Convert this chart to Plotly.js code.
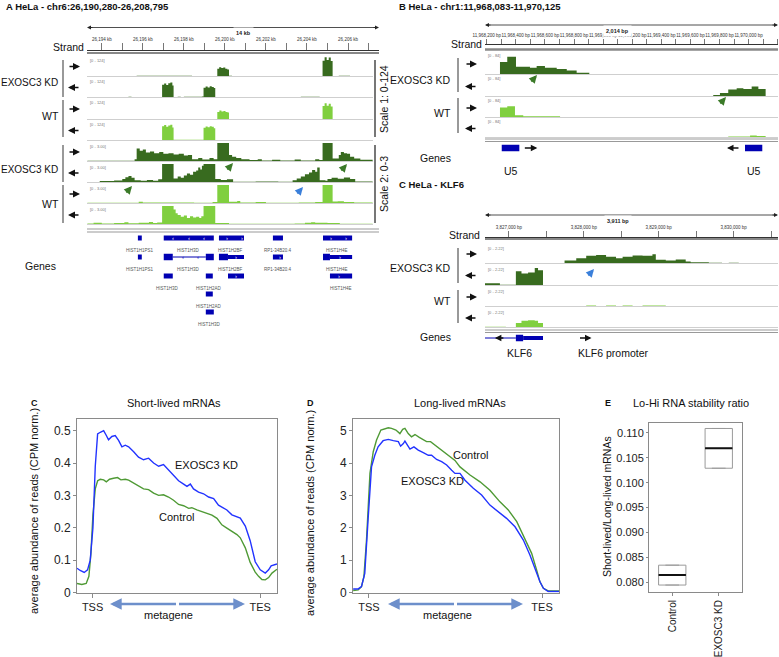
<!DOCTYPE html>
<html><head><meta charset="utf-8">
<script src="https://cdn.plot.ly/plotly-3.0.1.min.js"></script>
<style>html,body{margin:0;padding:0;background:#fff}#chart{width:779px;height:657px}</style>
</head><body><div id="chart"></div>
<script>
// ================= DATA =================
// Panel A (chr6, kb) – coverage steps: start positions and values (last = end, 0)
const aKdPlusX = [26193.30, 26195.60, 26195.70, 26195.85, 26196.00, 26196.15, 26196.35, 26196.55, 26196.80, 26197.00, 26197.25, 26197.50, 26197.75, 26198.00, 26198.20, 26198.40, 26198.70, 26198.90, 26199.25, 26199.45, 26199.63, 26199.72, 26199.82, 26199.92, 26200.02, 26200.12, 26200.20, 26200.35, 26200.55, 26200.80, 26201.20, 26201.60, 26201.80, 26202.30, 26202.70, 26203.40, 26203.70, 26204.40, 26204.60, 26204.76, 26204.86, 26204.96, 26205.06, 26205.16, 26205.25, 26205.55, 26205.65, 26205.80, 26205.95, 26206.10, 26206.30, 26206.60, 26207.20];
const aKdPlusY = [0.05, 0.3, 2.1, 1.7, 1.9, 1.4, 1.6, 1.3, 1.5, 1.2, 1.3, 1.1, 1.2, 0.9, 1.0, 0.3, 0.5, 0.25, 0.5, 0.3, 48, 57, 52, 55, 47, 42, 1.0, 0.7, 0.5, 0.3, 0.15, 0.3, 0.1, 0.2, 0.1, 0.25, 0.1, 0.3, 0.15, 100, 122, 105, 120, 98, 0.4, 1.0, 1.5, 1.3, 1.2, 0.7, 0.4, 0.2, 0];
const aKdMinusX = [26193.90, 26194.60, 26195.00, 26195.15, 26195.30, 26195.45, 26195.60, 26195.90, 26196.20, 26196.50, 26196.75, 26196.94, 26197.04, 26197.14, 26197.24, 26197.34, 26197.44, 26197.50, 26197.70, 26197.85, 26198.00, 26198.15, 26198.30, 26198.45, 26198.60, 26198.70, 26198.80, 26198.88, 26198.96, 26199.06, 26199.16, 26199.26, 26199.36, 26199.46, 26199.53, 26199.80, 26200.10, 26200.40, 26201.50, 26202.60, 26203.30, 26203.50, 26203.70, 26203.90, 26204.10, 26204.25, 26204.40, 26204.50, 26204.62, 26204.90, 26205.00, 26205.20, 26205.50, 26205.80, 26206.10, 26206.35, 26207.20];
const aKdMinusY = [0.15, 0.25, 0.5, 0.8, 1.0, 0.7, 0.3, 0.2, 0.35, 0.2, 0.45, 80, 88, 78, 90, 95, 75, 0.6, 0.9, 0.7, 1.1, 1.4, 1.2, 1.7, 1.9, 2.4, 2.1, 2.7, 60, 68, 62, 70, 66, 58, 0.5, 0.35, 0.45, 0.05, 0.1, 0.05, 0.3, 0.6, 0.9, 1.3, 1.6, 2.0, 1.7, 2.4, 0.3, 0.2, 0.5, 0.7, 0.55, 0.75, 0.5, 0.1, 0];
const aWtPlusX = [26193.30, 26195.80, 26196.00, 26197.00, 26198.50, 26199.40, 26199.63, 26199.73, 26199.83, 26199.93, 26200.03, 26200.13, 26200.20, 26200.60, 26200.75, 26201.50, 26202.00, 26203.60, 26204.40, 26204.76, 26204.86, 26204.96, 26205.06, 26205.16, 26205.25, 26205.50, 26205.80, 26206.30, 26207.20];
const aWtPlusY = [0.05, 0.2, 0.08, 0.1, 0.05, 0.15, 44, 52, 46, 50, 43, 40, 0.2, 0.35, 0.1, 0.15, 0.05, 0.1, 0.15, 80, 97, 82, 95, 78, 0.25, 0.3, 0.15, 0.1, 0];
const aWtMinusX = [26193.30, 26193.60, 26194.00, 26194.60, 26195.10, 26195.30, 26195.80, 26196.30, 26196.50, 26196.70, 26196.94, 26197.04, 26197.14, 26197.24, 26197.34, 26197.44, 26197.50, 26197.60, 26197.70, 26197.85, 26198.00, 26198.15, 26198.30, 26198.45, 26198.60, 26198.75, 26198.85, 26198.96, 26199.06, 26199.16, 26199.26, 26199.36, 26199.46, 26199.53, 26200.20, 26203.40, 26203.90, 26204.20, 26204.40, 26205.00, 26205.60, 26207.20];
const aWtMinusY = [0.1, 0.2, 0.08, 0.15, 0.3, 0.12, 0.2, 0.35, 0.15, 0.25, 90, 98, 86, 95, 100, 82, 2.4, 1.8, 1.5, 1.2, 1.4, 1.0, 1.3, 1.1, 1.2, 1.0, 1.3, 80, 88, 84, 90, 86, 76, 0.15, 0.05, 0.1, 0.2, 0.3, 0.2, 0.15, 0.05, 0];
const aScaleMax = [124, 3];
const aScaleText = ['[0 - 124]', '[0 - 3.00]'];
// Panel A genes (kb)
const aGeneStart = [26195.76, 26197.02, 26199.71, 26202.34, 26204.78, 26195.76, 26197.02, 26197.46, 26199.07, 26199.71, 26200.15, 26202.34, 26204.78, 26205.12, 26197.02, 26199.07, 26200.15, 26205.12, 26199.07, 26199.07];
const aGeneEnd   = [26195.95, 26199.46, 26200.93, 26202.83, 26206.20, 26195.95, 26197.46, 26199.07, 26199.46, 26200.15, 26200.93, 26202.83, 26205.12, 26206.20, 26197.46, 26199.41, 26200.93, 26206.20, 26199.41, 26199.46];
const aGeneRow   = [0, 0, 0, 0, 0, 1, 1, 1, 1, 1, 1, 1, 1, 1, 2, 2, 2, 2, 3, 4];
const aGeneKind  = ['block', 'block', 'block', 'block', 'block', 'block', 'cds', 'intron', 'cds', 'cds', 'utr', 'block', 'cds', 'utr', 'block', 'block', 'block', 'block', 'block', 'block'];
const aGeneName  = ['HIST1H1PS1', 'HIST1H3D', 'HIST1H2BF', 'RP1-34B20.4', 'HIST1H4E', 'HIST1H1PS1', 'HIST1H3D', 'HIST1H2BF', 'RP1-34B20.4', 'HIST1H4E', 'HIST1H3D', 'HIST1H2AD', 'HIST1H4E', 'HIST1H2AD', 'HIST1H3D'];
const aGeneNameRow = [0, 0, 0, 0, 0, 1, 1, 1, 1, 1, 2, 2, 2, 3, 4];
const aGeneNamePos = [26195.85, 26198.24, 26200.29, 26202.59, 26205.46, 26195.85, 26198.24, 26200.29, 26202.59, 26205.46, 26197.22, 26199.22, 26205.66, 26199.22, 26199.27];
// strand chevrons drawn inside gene features (position kb, row, strand, on intron line?)
const aChevPos = [26197.46, 26198.24, 26198.98, 26200.10, 26200.83, 26205.17, 26205.90, 26197.95, 26198.68, 26200.54, 26202.68, 26205.61, 26200.54, 26205.54];
const aChevRow = [0, 0, 0, 0, 0, 0, 0, 1, 1, 1, 1, 1, 2, 2];
const aChevStrand = [-1, -1, -1, 1, 1, 1, 1, -1, -1, 1, 1, 1, 1, 1];
const aChevOnLine = [0, 0, 0, 0, 0, 0, 0, 1, 1, 0, 0, 0, 0, 0];

// Panel B (chr1, bp)
const bKdPlusX = [11968291, 11968341, 11968401, 11968497, 11968543, 11968600, 11968681, 11968750, 11968818, 11968905];
const bKdPlusY = [46, 66, 28, 24, 31, 24, 19, 13, 5, 0];
const bKdMinusX = [11969757, 11969803, 11969860, 11969918, 11969964, 11970021, 11970067, 11970117];
const bKdMinusY = [4, 12, 26, 31, 28, 38, 28, 0];
const bWtPlusX = [11968291, 11968341, 11968394, 11968451, 11968704];
const bWtPlusY = [40, 45, 7, 3, 0];
const bWtMinusX = [11969860, 11970010, 11970056, 11970117];
const bWtMinusY = [2, 7, 4, 0];
const bScaleMax = 84;
const bScaleText = '[0 - 84]';
const bGeneStart = [11968303, 11969975];
const bGeneEnd = [11968424, 11970094];
const bGeneStrand = [1, -1];
const bGeneName = ['U5', 'U5'];

// Panel C genome track (KLF6, bp)
const kKdPlusX = [3827743, 3827899, 3828032, 3828164, 3828297, 3828430, 3828518, 3828651, 3828784, 3828916, 3828961, 3829094, 3829227, 3829360, 3829426, 3829669, 3829846, 3829935, 3830068];
const kKdPlusY = [0.32, 0.6, 0.89, 1.0, 0.77, 0.6, 0.77, 0.93, 0.89, 1.09, 0.4, 0.32, 0.44, 0.2, 0.08, 0.04, 0, 0.04, 0];
const kKdMinusX = [3826681, 3826880, 3827093, 3827168, 3827256, 3827345, 3827389, 3827455];
const kKdMinusY = [0.19, 0.04, 1.6, 1.34, 1.45, 1.99, 1.72, 0];
const kWtPlusX = [3828032, 3828164, 3828297, 3828430, 3828518, 3828651, 3828784, 3829094];
const kWtPlusY = [0.06, 0, 0.05, 0, 0.05, 0, 0.05, 0];
const kWtMinusX = [3826681, 3826960, 3827093, 3827168, 3827256, 3827345, 3827389, 3827455];
const kWtMinusY = [0.04, 0, 0.5, 0.78, 0.82, 0.78, 0.5, 0];
const kScaleMax = 2.22;
const kScaleText = '[0 - 2.22]';
const kGeneStart = [3826681, 3827093, 3827190];
const kGeneEnd = [3827093, 3827190, 3827455];
const kGeneKind = ['intron', 'cds', 'utr'];
const kGeneName = 'KLF6';
const kPromoterPos = 3827929;
const kPromoterName = 'KLF6 promoter';

// Bottom panel C: short-lived mRNAs metagene
const metaTickVals = [0, 100];
const metaTickText = ['TSS', 'TES'];
const cKdX = [-9.3, -7.4, -5.0, -3.0, -1.4, 0.2, 1.6, 3.0, 4.6, 6.6, 8.2, 9.5, 11.5, 13.5, 15.5, 17.5, 19.5, 21.5, 24.5, 27.4, 30.4, 33.4, 36.4, 39.4, 42.3, 45.3, 48.3, 51.3, 54.3, 56.3, 58.3, 60.2, 63.2, 66.2, 69.2, 72.2, 75.1, 77.1, 80.1, 83.1, 86.1, 88.1, 91.1, 94.0, 97.0, 100.0, 103.0, 105.0, 106.5, 110.0];
const cKdY = [0.075, 0.068, 0.062, 0.070, 0.100, 0.200, 0.390, 0.490, 0.495, 0.500, 0.485, 0.472, 0.482, 0.485, 0.470, 0.450, 0.455, 0.450, 0.435, 0.418, 0.410, 0.415, 0.400, 0.390, 0.395, 0.378, 0.360, 0.345, 0.335, 0.328, 0.335, 0.320, 0.310, 0.305, 0.295, 0.290, 0.270, 0.265, 0.255, 0.240, 0.235, 0.230, 0.205, 0.160, 0.095, 0.070, 0.060, 0.070, 0.082, 0.088];
const cCtrlX = [-9.3, -6.4, -3.8, -2.2, -1.0, 0.2, 1.6, 3.0, 4.6, 6.6, 8.2, 10.1, 12.5, 14.9, 16.9, 19.5, 21.5, 24.5, 27.4, 30.4, 33.4, 36.4, 39.4, 42.3, 45.3, 48.3, 51.3, 54.3, 57.3, 59.2, 62.2, 65.2, 68.2, 71.2, 74.2, 77.1, 80.1, 83.1, 86.1, 88.1, 91.1, 94.0, 97.0, 99.0, 101.0, 103.0, 105.0, 107.0, 110.0];
const cCtrlY = [0.028, 0.025, 0.028, 0.050, 0.120, 0.240, 0.320, 0.345, 0.350, 0.348, 0.342, 0.350, 0.353, 0.355, 0.348, 0.350, 0.347, 0.338, 0.330, 0.320, 0.318, 0.307, 0.300, 0.302, 0.295, 0.285, 0.272, 0.268, 0.260, 0.262, 0.255, 0.250, 0.244, 0.239, 0.229, 0.209, 0.199, 0.189, 0.179, 0.169, 0.138, 0.093, 0.063, 0.050, 0.040, 0.039, 0.046, 0.060, 0.072];

// Bottom panel D: long-lived mRNAs metagene
const dCtrlX = [-9.1, -6.2, -4.3, -2.9, -1.4, 0.6, 2.5, 4.4, 6.9, 9.2, 11.2, 13.1, 15.6, 17.9, 19.5, 20.8, 22.7, 24.6, 26.6, 29.1, 31.4, 33.3, 35.6, 38.2, 41.0, 43.9, 46.8, 49.7, 52.6, 58.4, 64.2, 69.9, 75.7, 80.5, 85.4, 90.2, 94.0, 96.9, 98.8, 100.8, 103.6, 109.8];
const dCtrlY = [0.06, 0.08, 0.18, 0.49, 1.62, 3.68, 4.35, 4.71, 5.02, 5.07, 5.09, 5.07, 5.02, 4.91, 5.04, 5.07, 4.91, 4.81, 4.88, 4.79, 4.73, 4.66, 4.66, 4.55, 4.43, 4.33, 4.20, 4.08, 3.88, 3.63, 3.42, 3.16, 2.80, 2.55, 2.19, 1.67, 1.21, 0.69, 0.33, 0.13, 0.05, 0.05];
const dKdX = [-9.1, -6.2, -4.3, -2.4, -0.5, 1.5, 3.4, 5.3, 8.2, 11.2, 14.1, 17.0, 18.3, 19.9, 20.8, 22.2, 23.7, 26.0, 28.5, 31.4, 34.3, 36.2, 39.1, 42.0, 44.9, 47.8, 49.7, 52.6, 55.5, 60.3, 65.1, 69.9, 74.7, 79.5, 84.4, 89.2, 93.0, 96.9, 98.8, 100.8, 103.6, 109.8];
const dKdY = [0.11, 0.11, 0.18, 0.59, 2.24, 3.88, 4.24, 4.50, 4.69, 4.73, 4.69, 4.66, 4.52, 4.60, 4.68, 4.55, 4.43, 4.50, 4.40, 4.32, 4.24, 4.24, 4.11, 4.04, 3.94, 3.78, 3.68, 3.68, 3.47, 3.22, 3.01, 2.70, 2.49, 2.29, 2.03, 1.62, 1.16, 0.59, 0.33, 0.13, 0.03, 0.03];

// Bottom panel E: Lo-Hi ratio boxes
const eCats = ['Control', 'EXOSC3 KD'];
const eQ1 = [0.0794, 0.1029];
const eMed = [0.0814, 0.1069];
const eQ3 = [0.0834, 0.1109];

// ================= BUILD =================
const W = 779, H = 657;
const fx = p => p / W;
const fy = p => 1 - p / H;
const FONT = 'Liberation Sans, Arial, sans-serif';
const DARK = '#386b1f', LIGHT = '#80cf3f', GENE = '#0000b2';
const traces = [], shapes = [], annotations = [];
const layout = {
  width: W, height: H, margin: {l: 0, r: 0, t: 0, b: 0},
  paper_bgcolor: '#ffffff', plot_bgcolor: 'rgba(0,0,0,0)', showlegend: false,
  font: {family: FONT, size: 11, color: '#222'}, boxgap: 0.16, boxmode: 'overlay'
};

function txt(x, y, text, o) {
  o = o || {};
  annotations.push({xref: 'paper', yref: 'paper', x: fx(x), y: fy(y), text: text, showarrow: false,
    xanchor: o.xa || 'center', yanchor: o.ya || 'middle', textangle: o.angle || 0,
    font: {family: FONT, size: o.size || 11, color: o.color || '#111'}});
}
function hline(x0, x1, y, color, width) {
  shapes.push({type: 'line', xref: 'paper', yref: 'paper', x0: fx(x0), x1: fx(x1), y0: fy(y), y1: fy(y), line: {color: color, width: width}});
}
function vline(x, y0, y1, color, width) {
  shapes.push({type: 'line', xref: 'paper', yref: 'paper', x0: fx(x), x1: fx(x), y0: fy(y0), y1: fy(y1), line: {color: color, width: width}});
}
function pArrow(hx, hy, ax, ay, color, width, size) {
  annotations.push({xref: 'paper', yref: 'paper', x: fx(hx), y: fy(hy), ax: ax, ay: ay, text: '', showarrow: true,
    arrowhead: 2, arrowsize: size || 1, arrowwidth: width || 1.2, arrowcolor: color || '#111'});
}
function ruler(x0, x1, y, label) {
  const mid = (x0 + x1) / 2;
  hline(x0 + 2, x1 - 2, y, '#222', 0.8);
  pArrow(x0, y, 7, 0, '#222', 0.8, 1);
  pArrow(x1, y, -7, 0, '#222', 0.8, 1);
  annotations.push({xref: 'paper', yref: 'paper', x: fx(mid), y: fy(y), text: '<b>' + label + '</b>', showarrow: false,
    bgcolor: '#ffffff', borderpad: 2, font: {family: FONT, size: 5.5, color: '#222'}});
}
function rulerAxis(x0, x1, range, ypx, dtick, minor, suffix, tlen) {
  const ax = {domain: [fx(x0), fx(x1)], range: range, anchor: 'free', position: fy(ypx), side: 'top',
    showline: true, linecolor: '#333', linewidth: 1, ticks: 'outside', ticklen: tlen, tickwidth: 0.8, tickcolor: '#555',
    tickmode: 'linear', dtick: dtick, tick0: 0, tickformat: ',', ticksuffix: suffix, tickangle: 0,
    tickfont: {family: FONT, size: 4.5, color: '#333'}, showgrid: false, zeroline: false, fixedrange: true};
  if (minor) ax.minor = {dtick: minor, tick0: 0, ticks: 'outside', ticklen: tlen, tickwidth: 0.8, tickcolor: '#555', showgrid: false};
  return ax;
}

let yN = 0;
function yKey(i) { return i === 1 ? 'yaxis' : 'yaxis' + i; }
function yRef(i) { return i === 1 ? 'y' : 'y' + i; }
function addTrack(xRef, xs, ys, color, tb, ymax, label, x0, x1) {
  yN++;
  layout[yKey(yN)] = {domain: [fy(tb[1]), fy(tb[0])], range: [0, ymax], visible: false, fixedrange: true, anchor: xRef};
  traces.push({type: 'scatter', mode: 'lines', x: xs, y: ys, xaxis: xRef, yaxis: yRef(yN),
    line: {shape: 'hv', width: 0, color: color}, fill: 'tozeroy', fillcolor: color, hoverinfo: 'skip'});
  hline(x0, x1 - 6, tb[1] + 0.5, '#cfcfcf', 1);
  annotations.push({xref: 'paper', yref: 'paper', x: fx(x0 + 1), y: fy(tb[0] - 1), xanchor: 'left', yanchor: 'top',
    text: label, showarrow: false, font: {family: FONT, size: 4, color: '#777'}});
}
const KIND_H = {block: 5, cds: 6.5, utr: 4, intron: 1};
function geneFeature(xRef, s, e, kind, cy) {
  if (kind === 'intron') {
    shapes.push({type: 'line', xref: xRef, yref: 'paper', x0: s, x1: e, y0: fy(cy), y1: fy(cy), line: {color: GENE, width: 1}});
  } else {
    const h = KIND_H[kind];
    shapes.push({type: 'rect', xref: xRef, yref: 'paper', x0: s, x1: e, y0: fy(cy + h / 2), y1: fy(cy - h / 2), fillcolor: GENE, line: {width: 0}});
  }
}
function dataArrow(xRef, x, xshift, ax, y) {
  annotations.push({xref: xRef, yref: 'paper', x: x, y: fy(y), xshift: xshift, ax: ax, ay: 0, text: '', showarrow: true,
    arrowhead: 2, arrowsize: 1, arrowwidth: 1.3, arrowcolor: '#111'});
}

// ---------- Panel A ----------
txt(4, 6, '<b>A HeLa - chr6:26,190,280-26,208,795</b>', {xa: 'left', size: 9.5});
layout.xaxis = rulerAxis(87, 379, [26193.28, 26207.51], 50, 2, 1, ' kb', 7);
ruler(87, 379, 27.5, '14 kb');
txt(86, 46.5, 'Strand', {xa: 'right', size: 10.5});
hline(87, 379, 53, '#888', 2);
const A_TRACKS = [[57, 76], [78, 97], [99, 119], [121, 140], [143, 161], [164, 182], [185, 203], [206, 224]];
const aSeries = [[aKdPlusX, aKdPlusY, DARK], [aKdMinusX, aKdMinusY, DARK], [aWtPlusX, aWtPlusY, LIGHT], [aWtMinusX, aWtMinusY, LIGHT]];
for (let s = 0; s < 2; s++) {
  for (let i = 0; i < 4; i++) {
    const d = aSeries[i];
    addTrack('x', d[0], d[1], d[2], A_TRACKS[s * 4 + i], aScaleMax[s], aScaleText[s], 87, 379);
  }
}
A_TRACKS.forEach((tb, i) => {
  const cy = (tb[0] + tb[1]) / 2;
  if (i % 2 === 0) pArrow(80, cy, -12, 0, '#111', 1.4, 1); else pArrow(68, cy, 12, 0, '#111', 1.4, 1);
});
txt(60, 82, 'EXOSC3 KD', {xa: 'right', size: 10});
txt(61, 116, 'WT', {xa: 'right', size: 10.5});
txt(60, 169, 'EXOSC3 KD', {xa: 'right', size: 10});
txt(61, 204, 'WT', {xa: 'right', size: 10.5});
vline(63, 60, 97, '#777', 1.5); vline(63, 100, 137, '#777', 1.5);
vline(63, 145, 182, '#777', 1.5); vline(63, 185, 223, '#777', 1.5);
vline(375, 60, 137, '#777', 2); vline(375, 145, 223, '#777', 2);
txt(384, 99, 'Scale 1: 0-124', {angle: -90, size: 10.5});
txt(384, 184, 'Scale 2: 0-3', {angle: -90, size: 10.5});
hline(87, 379, 229, '#999', 1); hline(87, 379, 232, '#999', 1);
txt(58, 266, 'Genes', {xa: 'right', size: 10.5});
const A_ROWS = [238, 257, 276, 294, 312];
aGeneStart.forEach((s, i) => geneFeature('x', s, aGeneEnd[i], aGeneKind[i], A_ROWS[aGeneRow[i]]));
aGeneName.forEach((n, i) => annotations.push({xref: 'x', yref: 'paper', x: aGeneNamePos[i], y: fy(A_ROWS[aGeneNameRow[i]] + 12),
  text: n, showarrow: false, font: {family: FONT, size: 4.5, color: '#555'}}));
aChevPos.forEach((p, i) => annotations.push({xref: 'x', yref: 'paper', x: p, y: fy(A_ROWS[aChevRow[i]]), showarrow: false,
  text: aChevStrand[i] > 0 ? '›' : '‹', font: {family: FONT, size: 6, color: aChevOnLine[i] ? GENE : '#ffffff'}}));
pArrow(233, 163, -7, 8, '#3b7a28', 2, 0.8);
pArrow(347, 164, -7, 8, '#3b7a28', 2, 0.8);
pArrow(132, 186, -7, 8, '#3b7a28', 2, 0.8);
pArrow(303, 187, -7, 8, '#3a7fda', 2, 0.8);

// ---------- Panel B ----------
txt(397, 6, '<b>B HeLa - chr1:11,968,083-11,970,125</b>', {xa: 'left', size: 9.5});
layout.xaxis2 = rulerAxis(485, 778, [11968188, 11970202], 44, 200, 100, ' bp', 5);
ruler(485, 778, 25, '2,014 bp');
txt(484, 44, 'Strand', {xa: 'right', size: 10.5});
hline(485, 778, 49.5, '#888', 2.5);
const B_TRACKS = [[52, 74], [75, 96], [97, 117], [118, 137]];
const bSeries = [[bKdPlusX, bKdPlusY, DARK], [bKdMinusX, bKdMinusY, DARK], [bWtPlusX, bWtPlusY, LIGHT], [bWtMinusX, bWtMinusY, LIGHT]];
bSeries.forEach((d, i) => addTrack('x2', d[0], d[1], d[2], B_TRACKS[i], bScaleMax, bScaleText, 485, 784));
B_TRACKS.forEach((tb, i) => {
  const cy = (tb[0] + tb[1]) / 2 + 1;
  if (i % 2 === 0) pArrow(477, cy, -12, 0, '#111', 1.4, 1); else pArrow(465, cy, 12, 0, '#111', 1.4, 1);
});
txt(453, 80, 'EXOSC3 KD', {xa: 'right', size: 10.5});
txt(453, 113, 'WT', {xa: 'right', size: 10.5});
vline(458, 58, 92, '#777', 1.5); vline(458, 98, 133, '#777', 1.5);
hline(485, 778, 139, '#999', 1); hline(485, 778, 141.5, '#999', 1);
txt(453, 158, 'Genes', {xa: 'right', size: 10.5});
bGeneStart.forEach((s, i) => {
  geneFeature('x2', s, bGeneEnd[i], 'cds', 148);
  annotations.push({xref: 'x2', yref: 'paper', x: (s + bGeneEnd[i]) / 2, y: fy(148), showarrow: false,
    text: bGeneStrand[i] > 0 ? '›' : '‹', font: {family: FONT, size: 6, color: '#ffffff'}});
  if (bGeneStrand[i] > 0) dataArrow('x2', bGeneEnd[i], 18, -14, 148); else dataArrow('x2', s, -18, 13, 148);
  annotations.push({xref: 'x2', yref: 'paper', x: (s + bGeneEnd[i]) / 2, y: fy(163), text: bGeneName[i], showarrow: false,
    font: {family: FONT, size: 10.5, color: '#111'}});
});
pArrow(537, 75, -7, 8, '#3b7a28', 2, 0.8);
pArrow(726, 97, -7, 8, '#3b7a28', 2, 0.8);

// ---------- Panel C (KLF6 genome track) ----------
txt(397, 184, '<b>C HeLa - KLF6</b>', {xa: 'left', size: 9.5});
layout.xaxis3 = rulerAxis(485, 778, [3826681, 3830592], 236.5, 1000, 500, ' bp', 6);
ruler(485, 778, 215, '3,911 bp');
txt(482, 235, 'Strand', {xa: 'right', size: 10.5});
hline(485, 778, 239, '#888', 2);
const K_TRACKS = [[245, 263], [266, 285], [288, 306], [309, 327]];
const kSeries = [[kKdPlusX, kKdPlusY, DARK], [kKdMinusX, kKdMinusY, DARK], [kWtPlusX, kWtPlusY, LIGHT], [kWtMinusX, kWtMinusY, LIGHT]];
kSeries.forEach((d, i) => addTrack('x3', d[0], d[1], d[2], K_TRACKS[i], kScaleMax, kScaleText, 485, 784));
K_TRACKS.forEach((tb, i) => {
  const cy = (tb[0] + tb[1]) / 2;
  if (i % 2 === 0) pArrow(477, cy, -12, 0, '#111', 1.4, 1); else pArrow(465, cy, 12, 0, '#111', 1.4, 1);
});
txt(453, 268, 'EXOSC3 KD', {xa: 'right', size: 10.5});
txt(453, 301, 'WT', {xa: 'right', size: 10.5});
vline(458, 248, 283, '#777', 1.5); vline(458, 290, 323, '#777', 1.5);
hline(485, 778, 330, '#999', 1); hline(485, 778, 332.5, '#999', 1);
txt(453, 337, 'Genes', {xa: 'right', size: 10.5});
kGeneStart.forEach((s, i) => geneFeature('x3', s, kGeneEnd[i], kGeneKind[i], 338));
dataArrow('x3', kGeneStart[1], -21, 10, 338);
annotations.push({xref: 'x3', yref: 'paper', x: (kGeneStart[1] + kGeneEnd[1]) / 2, y: fy(353), text: kGeneName, showarrow: false,
  font: {family: FONT, size: 10.5, color: '#111'}});
dataArrow('x3', kPromoterPos, 13, -13, 338);
annotations.push({xref: 'x3', yref: 'paper', x: kPromoterPos, xshift: -3, xanchor: 'left', y: fy(353), text: kPromoterName, showarrow: false,
  font: {family: FONT, size: 10.5, color: '#111'}});
pArrow(594, 269, -7, 8, '#3a7fda', 2, 0.8);

// ---------- Bottom charts ----------
const BLUE = '#2233ff', GREEN = '#4f9a35', FRAME = '#8a8a8a';
function frameAxis(extra) {
  return Object.assign({showline: true, mirror: true, linecolor: FRAME, linewidth: 1, showgrid: false, zeroline: false,
    ticks: 'outside', tickcolor: FRAME, fixedrange: true, tickfont: {family: FONT, size: 12, color: '#222'}}, extra);
}
// C
layout.xaxis4 = frameAxis({domain: [fx(77), fx(277)], range: [-9.3, 110], anchor: 'y17', tickmode: 'array',
  tickvals: metaTickVals, ticktext: metaTickText, ticklen: 4, tickfont: {family: FONT, size: 11, color: '#222'}});
layout.yaxis17 = frameAxis({domain: [fy(592.5), fy(419)], range: [0, 0.536], anchor: 'x4', dtick: 0.1, tick0: 0, ticklen: 3});
traces.push({type: 'scatter', mode: 'lines', x: cCtrlX, y: cCtrlY, xaxis: 'x4', yaxis: 'y17', line: {color: GREEN, width: 1.4}});
traces.push({type: 'scatter', mode: 'lines', x: cKdX, y: cKdY, xaxis: 'x4', yaxis: 'y17', line: {color: BLUE, width: 1.4}});
txt(34, 403, '<b>C</b>', {size: 9});
txt(174, 403, 'Short-lived mRNAs', {size: 11});
txt(34, 511, 'average abundance of reads (CPM norm.)', {angle: -90, size: 11});
txt(207, 465, 'EXOSC3 KD', {size: 11});
txt(176, 517, 'Control', {size: 11});
// D
layout.xaxis5 = frameAxis({domain: [fx(353), fx(559)], range: [-9.2, 109.8], anchor: 'y18', tickmode: 'array',
  tickvals: metaTickVals, ticktext: metaTickText, ticklen: 4, tickfont: {family: FONT, size: 11, color: '#222'}});
layout.yaxis18 = frameAxis({domain: [fy(592.5), fy(419)], range: [0, 5.36], anchor: 'x5', dtick: 1, tick0: 0, ticklen: 3});
traces.push({type: 'scatter', mode: 'lines', x: dCtrlX, y: dCtrlY, xaxis: 'x5', yaxis: 'y18', line: {color: GREEN, width: 1.4}});
traces.push({type: 'scatter', mode: 'lines', x: dKdX, y: dKdY, xaxis: 'x5', yaxis: 'y18', line: {color: BLUE, width: 1.4}});
txt(310, 403, '<b>D</b>', {size: 9});
txt(460, 403, 'Long-lived mRNAs', {size: 11});
txt(310, 513, 'average abundance of reads (CPM norm.)', {angle: -90, size: 11});
txt(470, 455, 'Control', {size: 11});
txt(432, 481, 'EXOSC3 KD', {size: 11});
// metagene arrows
function dblArrow(x0, x1, y) {
  const mid = (x0 + x1) / 2;
  pArrow(x0, y, mid - x0, 0, '#6d8fcb', 2.6, 0.9);
  pArrow(x1, y, mid - x1, 0, '#6d8fcb', 2.6, 0.9);
}
dblArrow(110, 245, 604); txt(168, 615, 'metagene', {size: 11});
dblArrow(388, 523, 604); txt(447, 615, 'metagene', {size: 11});
// E
layout.xaxis6 = frameAxis({domain: [fx(649), fx(742)], type: 'category', range: [-0.5, 1.5], anchor: 'y19', tickangle: -90, ticklen: 3,
  tickfont: {family: FONT, size: 10, color: '#222'}});
layout.yaxis19 = frameAxis({domain: [fy(592), fy(423)], range: [0.078, 0.112], anchor: 'x6', dtick: 0.005, tick0: 0, tickformat: '.3f', ticklen: 2,
  tickfont: {family: FONT, size: 11, color: '#222'}});
traces.push({type: 'box', x: eCats, q1: eQ1, median: eMed, q3: eQ3, lowerfence: eQ1, upperfence: eQ3,
  xaxis: 'x6', yaxis: 'y19', fillcolor: '#ffffff', line: {color: '#9a9a9a', width: 1}, boxpoints: false, hoverinfo: 'skip'});
traces.push({type: 'box', x: eCats, q1: eMed, median: eMed, q3: eMed, lowerfence: eMed, upperfence: eMed,
  xaxis: 'x6', yaxis: 'y19', fillcolor: 'rgba(0,0,0,0)', line: {color: '#111', width: 2}, boxpoints: false, hoverinfo: 'skip'});
txt(608, 403, '<b>E</b>', {size: 9});
txt(691, 403, 'Lo-Hi RNA stability ratio', {size: 11});
txt(607, 507, 'Short-lived/Long-lived mRNAs', {angle: -90, size: 10.5});

layout.shapes = shapes;
layout.annotations = annotations;
Plotly.newPlot('chart', traces, layout, {displayModeBar: false, staticPlot: true});
</script></body></html>
